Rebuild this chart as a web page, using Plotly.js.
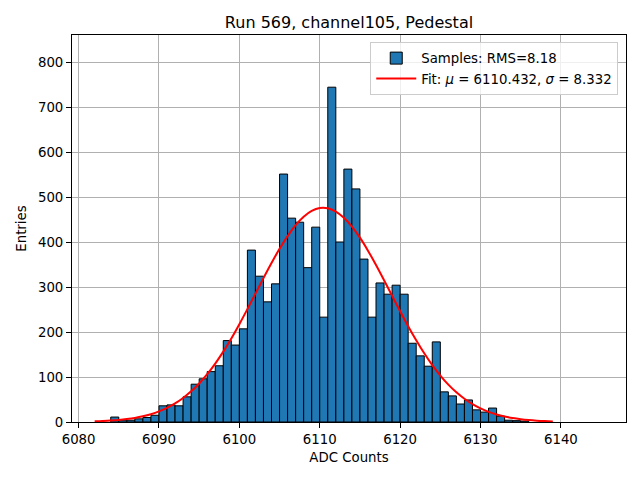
<!DOCTYPE html>
<html>
<head>
<meta charset="utf-8">
<script src="https://cdn.plot.ly/plotly-3.0.1.min.js"></script>
<style>html,body{margin:0;padding:0;background:#fff;}#chart{width:640px;height:480px;}</style>
</head>
<body>
<div id="chart"></div>
<script>
// Histogram bins (left edges, width 1 ADC count) and counts
const binEdges = [6084,6085,6086,6087,6088,6089,6090,6091,6092,6093,6094,6095,6096,6097,6098,6099,
  6100,6101,6102,6103,6104,6105,6106,6107,6108,6109,6110,6111,6112,6113,6114,6115,6116,6117,6118,6119,
  6120,6121,6122,6123,6124,6125,6126,6127,6128,6129,6130,6131,6132,6133,6134,6135];
const counts = [11,4,4,7,10,15,36,38,36,56,84,96,112,125,181,171,
  207,382,324,267,307,551,453,444,343,433,233,744,400,562,518,362,233,309,284,304,
  284,175,147,124,178,67,58,40,49,27,22,31,13,4,3,2];

// Gaussian fit curve
const fitX = [6082,6083,6084,6085,6086,6087,6088,6089,6090,6091,6092,6093,6094,6095,6096,6097,6098,6099,
  6100,6101,6102,6103,6104,6105,6106,6107,6108,6109,6110,6111,6112,6113,6114,6115,6116,6117,6118,6119,
  6120,6121,6122,6123,6124,6125,6126,6127,6128,6129,6130,6131,6132,6133,6134,6135,6136,6137,6138,6139];
const fitY = [1.41,2.11,3.11,4.51,6.47,9.12,12.69,17.41,23.54,31.37,41.21,53.35,68.08,85.66,106.2,129.8,156.4,185.7,
  217.4,250.8,285.2,319.8,353.3,384.9,413.2,437.3,456.1,469.0,475.4,474.9,467.6,453.9,434.3,409.6,380.8,348.9,315.1,280.5,
  246.2,212.9,181.6,152.6,126.4,103.2,83.09,65.93,51.55,39.73,30.19,22.61,16.69,12.15,8.71,6.16,4.29,2.95,2.00,1.33];

const titleText = "Run 569, channel105, Pedestal";
const xTitle = "ADC Counts";
const yTitle = "Entries";
const histLabel = "Samples: RMS=8.18";
const fitLabel = "Fit: <i>μ</i> = 6110.432, <i>σ</i> = 8.332";
const xTicks = [6080,6090,6100,6110,6120,6130,6140];
const yTicks = [0,100,200,300,400,500,600,700,800];

const FONT = "DejaVu Sans, Liberation Sans, sans-serif";

const traces = [
  {
    type: "bar",
    x: binEdges,
    y: counts,
    width: 1,
    offset: 0,
    name: histLabel,
    marker: {color: "#1f77b4", line: {color: "#000000", width: 1}},
    hoverinfo: "x+y"
  },
  {
    type: "scatter",
    mode: "lines",
    x: fitX,
    y: fitY,
    name: fitLabel,
    line: {color: "#ff0000", width: 2, shape: "spline"}
  }
];

const layout = {
  width: 640,
  height: 480,
  paper_bgcolor: "#ffffff",
  plot_bgcolor: "#ffffff",
  font: {family: FONT, size: 13.3, color: "#000000"},
  margin: {l: 72, r: 14, t: 35, b: 58, pad: 0},
  bargap: 0,
  showlegend: true,
  title: {
    text: titleText,
    font: {family: FONT, size: 16, color: "#000000"},
    x: 0.5, xref: "paper", xanchor: "center",
    y: 1 - 22/480, yref: "container", yanchor: "middle"
  },
  xaxis: {
    range: [6079.18, 6148.1],
    tickmode: "array",
    tickvals: xTicks,
    ticktext: xTicks.map(String),
    ticks: "outside", ticklen: 5, tickwidth: 1, tickcolor: "#000000",
    showline: true, mirror: true, linecolor: "#000000", linewidth: 1,
    showgrid: true, gridcolor: "#b0b0b0", gridwidth: 1,
    zeroline: false,
    tickfont: {family: FONT, size: 13.3, color: "#000000"},
    title: {text: xTitle, font: {family: FONT, size: 13.3, color: "#000000"}, standoff: 6}
  },
  yaxis: {
    range: [0, 860],
    tickmode: "array",
    tickvals: yTicks,
    ticktext: yTicks.map(String),
    ticks: "outside", ticklen: 5, tickwidth: 1, tickcolor: "#000000",
    showline: true, mirror: true, linecolor: "#000000", linewidth: 1,
    showgrid: true, gridcolor: "#b0b0b0", gridwidth: 1,
    zeroline: false,
    tickfont: {family: FONT, size: 13.3, color: "#000000"},
    title: {text: yTitle, font: {family: FONT, size: 13.3, color: "#000000"}, standoff: 8}
  },
  legend: {
    x: 0.986, xanchor: "right",
    y: 0.982, yanchor: "top",
    bgcolor: "rgba(255,255,255,0.8)",
    bordercolor: "#cccccc", borderwidth: 1,
    font: {family: FONT, size: 13.3, color: "#000000"},
    tracegroupgap: 2,
    itemwidth: 40
  }
};

Plotly.newPlot("chart", traces, layout, {displayModeBar: false, staticPlot: true});
</script>
</body>
</html>
